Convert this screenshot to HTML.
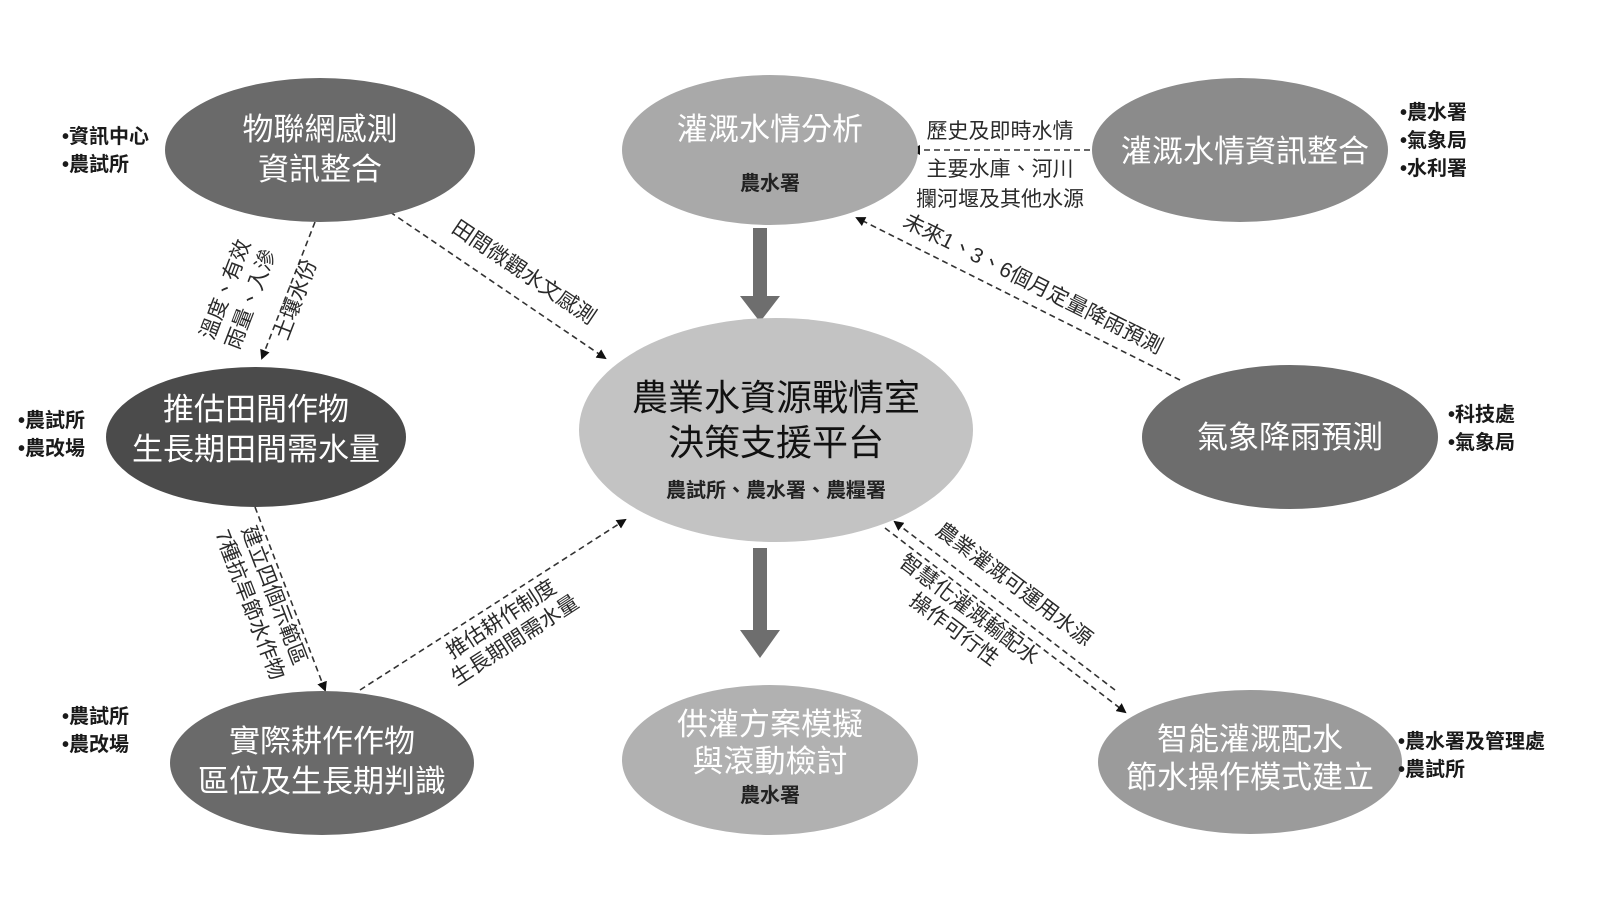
<!DOCTYPE html>
<html><head><meta charset="utf-8"><style>
html,body{margin:0;padding:0;background:#fff;}
svg{display:block;font-family:"Liberation Sans","Noto Sans CJK TC",sans-serif;}
.w{fill:#fff;text-anchor:middle;font-size:31px;}
.b{fill:#1a1a1a;font-size:20px;font-weight:bold;}
.l{fill:#2a2a2a;font-size:21px;text-anchor:middle;}
.d{stroke:#333;stroke-width:1.6;stroke-dasharray:6 4;fill:none;}
</style></head><body>
<svg width="1600" height="900" viewBox="0 0 1600 900" xmlns="http://www.w3.org/2000/svg">
<defs><marker id="a" markerWidth="10" markerHeight="10" refX="8" refY="5" orient="auto" markerUnits="userSpaceOnUse"><path d="M0,0 L10,5 L0,10 z" fill="#111"/></marker></defs>
<rect width="1600" height="900" fill="#fff"/>
<rect x="753" y="228" width="14" height="70" fill="#6e6e6e"/><path d="M740,296 L780,296 L760,322 z" fill="#6e6e6e"/>
<rect x="753" y="548" width="14" height="85" fill="#6e6e6e"/><path d="M740,630 L780,630 L760,658 z" fill="#6e6e6e"/>
<line class="d" x1="315" y1="222" x2="262" y2="358" marker-end="url(#a)"/>
<line class="d" x1="390" y1="212" x2="605" y2="358" marker-end="url(#a)"/>
<line class="d" x1="1100" y1="150" x2="912" y2="150" marker-end="url(#a)"/>
<line class="d" x1="1180" y1="380" x2="857" y2="218" marker-end="url(#a)"/>
<line class="d" x1="255" y1="507" x2="325" y2="690" marker-end="url(#a)"/>
<line class="d" x1="360" y1="690" x2="625" y2="520" marker-end="url(#a)"/>
<line class="d" x1="1115" y1="690" x2="895" y2="522" marker-end="url(#a)"/>
<line class="d" x1="885" y1="528" x2="1125" y2="712" marker-end="url(#a)"/>
<ellipse cx="320" cy="150" rx="155" ry="72" fill="#6a6a6a"/>
<ellipse cx="770" cy="150" rx="148" ry="75" fill="#a9a9a9"/>
<ellipse cx="1240" cy="150" rx="148" ry="72" fill="#8b8b8b"/>
<ellipse cx="256" cy="437" rx="150" ry="70" fill="#4b4b4b"/>
<ellipse cx="776" cy="430" rx="197" ry="112" fill="#c3c3c3"/>
<ellipse cx="1290" cy="437" rx="148" ry="72" fill="#6d6d6d"/>
<ellipse cx="322" cy="763" rx="152" ry="72" fill="#6a6a6a"/>
<ellipse cx="770" cy="760" rx="148" ry="75" fill="#b1b1b1"/>
<ellipse cx="1250" cy="762" rx="152" ry="72" fill="#9b9b9b"/>
<text class="w" x="320" y="140">物聯網感測</text><text class="w" x="320" y="180">資訊整合</text>
<text class="w" x="770" y="140">灌溉水情分析</text><text x="770" y="190" style="font-size:20px;text-anchor:middle;fill:#222;font-weight:bold">農水署</text>
<text class="w" x="1245" y="162">灌溉水情資訊整合</text>
<text class="w" x="256" y="420">推估田間作物</text><text class="w" x="256" y="460">生長期田間需水量</text>
<text x="776" y="410" style="font-size:36px;text-anchor:middle;fill:#111">農業水資源戰情室</text>
<text x="776" y="455" style="font-size:36px;text-anchor:middle;fill:#111">決策支援平台</text>
<text x="776" y="497" style="font-size:20px;text-anchor:middle;fill:#222;font-weight:bold">農試所、農水署、農糧署</text>
<text class="w" x="1290" y="448">氣象降雨預測</text>
<text class="w" x="322" y="752">實際耕作作物</text><text class="w" x="322" y="792">區位及生長期判識</text>
<text class="w" x="770" y="735">供灌方案模擬</text><text class="w" x="770" y="772">與滾動檢討</text><text x="770" y="802" style="font-size:20px;text-anchor:middle;fill:#222;font-weight:bold">農水署</text>
<text class="w" x="1250" y="750">智能灌溉配水</text><text class="w" x="1250" y="788">節水操作模式建立</text>
<text class="b" x="62" y="143">•資訊中心</text><text class="b" x="62" y="171">•農試所</text>
<text class="b" x="1400" y="119">•農水署</text><text class="b" x="1400" y="147">•氣象局</text><text class="b" x="1400" y="175">•水利署</text>
<text class="b" x="18" y="427">•農試所</text><text class="b" x="18" y="455">•農改場</text>
<text class="b" x="1448" y="421">•科技處</text><text class="b" x="1448" y="449">•氣象局</text>
<text class="b" x="62" y="723">•農試所</text><text class="b" x="62" y="751">•農改場</text>
<text class="b" x="1398" y="748">•農水署及管理處</text><text class="b" x="1398" y="776">•農試所</text>
<text class="l" x="1000" y="138">歷史及即時水情</text>
<text class="l" x="1000" y="176">主要水庫、河川</text>
<text class="l" x="1000" y="206">攔河堰及其他水源</text>
<g transform="translate(1030,290) rotate(26.6)"><text class="l" x="0" y="0">未來1、3、6個月定量降雨預測</text></g>
<g transform="translate(520,278) rotate(34)"><text class="l" x="0" y="0">田間微觀水文感測</text></g>
<g transform="translate(232,292) rotate(-69)"><text class="l" x="0" y="0">溫度、有效</text><text class="l" x="0" y="27">雨量、入滲</text></g>
<g transform="translate(302,302) rotate(-69)"><text class="l" x="0" y="0">土壤水份</text></g>
<g transform="translate(262,600) rotate(69)"><text class="l" x="0" y="-6">建立四個示範區</text><text class="l" x="0" y="20">7種抗旱節水作物</text></g>
<g transform="translate(505,625) rotate(-33)"><text class="l" x="0" y="0">推估耕作制度</text><text class="l" x="0" y="25">生長期間需水量</text></g>
<g transform="translate(1010,590) rotate(37)"><text class="l" x="0" y="0">農業灌溉可運用水源</text></g>
<g transform="translate(965,615) rotate(37)"><text class="l" x="0" y="0">智慧化灌溉輸配水</text><text class="l" x="0" y="25">操作可行性</text></g>
</svg>
</body></html>
